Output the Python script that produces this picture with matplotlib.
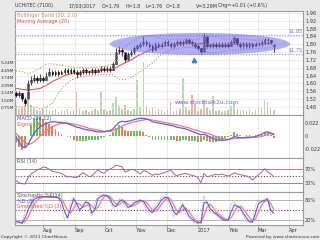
import matplotlib
matplotlib.use('Agg')
import matplotlib.pyplot as plt
import matplotlib.dates as mdates
from matplotlib.patches import Ellipse
import numpy as np
import pandas as pd

# ---------------- data ----------------
sessions = pd.date_range('2016-07-05', '2017-03-17', freq='3D')      # 86 sample sessions
line_days = pd.date_range('2016-07-05', periods=43, freq='6D')       # MA / Bollinger samples

price_open = [1.55, 1.54, 1.55, 1.52, 1.52, 1.60, 1.62, 1.63, 1.62, 1.63,
              1.62, 1.64, 1.66, 1.65, 1.66, 1.65, 1.66, 1.67, 1.66, 1.67,
              1.66, 1.65, 1.66, 1.67, 1.66, 1.66, 1.67, 1.66, 1.67, 1.68,
              1.67, 1.68, 1.67, 1.70, 1.76, 1.77, 1.76, 1.72, 1.75, 1.76,
              1.78, 1.79, 1.80, 1.81, 1.80, 1.79, 1.77, 1.80, 1.79, 1.80,
              1.81, 1.80, 1.79, 1.80, 1.81, 1.80, 1.81, 1.82, 1.81, 1.80,
              1.79, 1.78, 1.76, 1.84, 1.79, 1.79, 1.80, 1.79, 1.80, 1.79,
              1.80, 1.79, 1.81, 1.83, 1.80, 1.79, 1.80, 1.79, 1.80, 1.79,
              1.80, 1.80, 1.81, 1.82, 1.82, 1.79]
price_high = [1.56, 1.56, 1.55, 1.53, 1.62, 1.64, 1.65, 1.64, 1.65, 1.64,
              1.66, 1.68, 1.67, 1.67, 1.67, 1.67, 1.68, 1.68, 1.68, 1.68,
              1.67, 1.67, 1.68, 1.68, 1.67, 1.68, 1.68, 1.68, 1.69, 1.69,
              1.69, 1.69, 1.71, 1.78, 1.79, 1.78, 1.76, 1.76, 1.77, 1.79,
              1.80, 1.81, 1.84, 1.82, 1.81, 1.80, 1.81, 1.81, 1.81, 1.82,
              1.82, 1.81, 1.81, 1.82, 1.82, 1.82, 1.83, 1.83, 1.82, 1.81,
              1.80, 1.78, 1.86, 1.84, 1.80, 1.81, 1.81, 1.81, 1.81, 1.81,
              1.81, 1.82, 1.84, 1.83, 1.81, 1.81, 1.81, 1.81, 1.81, 1.81,
              1.81, 1.82, 1.83, 1.83, 1.82, 1.80]
price_low = [1.53, 1.53, 1.51, 1.49, 1.52, 1.59, 1.61, 1.60, 1.61, 1.61,
             1.62, 1.64, 1.64, 1.64, 1.64, 1.65, 1.65, 1.65, 1.65, 1.65,
             1.63, 1.64, 1.65, 1.65, 1.65, 1.65, 1.65, 1.66, 1.66, 1.66,
             1.66, 1.66, 1.67, 1.70, 1.75, 1.74, 1.71, 1.72, 1.74, 1.75,
             1.77, 1.78, 1.79, 1.79, 1.78, 1.76, 1.77, 1.78, 1.78, 1.79,
             1.79, 1.78, 1.78, 1.79, 1.79, 1.79, 1.80, 1.80, 1.79, 1.78,
             1.77, 1.75, 1.76, 1.78, 1.78, 1.78, 1.78, 1.78, 1.78, 1.78,
             1.78, 1.79, 1.80, 1.79, 1.78, 1.78, 1.78, 1.78, 1.78, 1.79,
             1.79, 1.79, 1.80, 1.80, 1.80, 1.76]
price_close = [1.54, 1.55, 1.52, 1.50, 1.60, 1.62, 1.63, 1.62, 1.63, 1.62,
               1.64, 1.66, 1.65, 1.66, 1.65, 1.66, 1.67, 1.66, 1.67, 1.66,
               1.65, 1.66, 1.67, 1.66, 1.66, 1.67, 1.66, 1.67, 1.68, 1.67,
               1.68, 1.67, 1.70, 1.76, 1.77, 1.76, 1.72, 1.75, 1.76, 1.78,
               1.79, 1.80, 1.81, 1.80, 1.79, 1.77, 1.80, 1.79, 1.80, 1.81,
               1.80, 1.79, 1.80, 1.81, 1.80, 1.81, 1.82, 1.81, 1.80, 1.79,
               1.78, 1.76, 1.84, 1.79, 1.79, 1.80, 1.79, 1.80, 1.79, 1.80,
               1.79, 1.81, 1.83, 1.80, 1.79, 1.80, 1.79, 1.80, 1.79, 1.80,
               1.80, 1.81, 1.82, 1.82, 1.81, 1.80]
volume_m = [0.9, 0.6, 0.8, 1.0, 1.6, 1.0, 0.7, 0.5, 0.4, 0.6,
            0.8, 0.5, 0.4, 0.6, 0.3, 0.5, 0.4, 0.6, 0.4, 0.5,
            2.3, 0.6, 0.4, 0.5, 0.3, 0.4, 0.6, 0.5, 2.4, 0.6,
            0.4, 0.5, 1.2, 1.8, 0.9, 0.6, 1.0, 0.5, 0.4, 0.6,
            3.5, 0.8, 5.3, 0.9, 0.5, 0.7, 0.4, 0.6, 0.5, 0.3,
            0.6, 1.3, 0.4, 0.5, 0.6, 3.7, 0.8, 0.5, 2.0, 1.1,
            0.4, 0.6, 1.5, 0.8, 0.5, 1.9, 0.4, 0.5, 0.3, 0.4,
            0.5, 0.9, 1.2, 0.6, 0.4, 0.5, 0.4, 0.6, 0.3, 0.5,
            0.7, 0.8, 1.5, 1.3, 0.7, 0.5]

ma20 = [1.575, 1.570, 1.567, 1.570, 1.575, 1.590, 1.610, 1.625, 1.640, 1.650,
        1.655, 1.658, 1.660, 1.662, 1.665, 1.668, 1.672, 1.690, 1.705, 1.720,
        1.740, 1.755, 1.770, 1.780, 1.790, 1.795, 1.800, 1.802, 1.805, 1.805,
        1.803, 1.803, 1.800, 1.798, 1.795, 1.797, 1.800, 1.800, 1.800, 1.800,
        1.800, 1.802, 1.805]
bb_upper = [1.665, 1.660, 1.650, 1.660, 1.680, 1.700, 1.700, 1.695, 1.690, 1.685,
            1.680, 1.680, 1.680, 1.682, 1.685, 1.690, 1.700, 1.760, 1.790, 1.810,
            1.830, 1.840, 1.845, 1.840, 1.830, 1.825, 1.825, 1.825, 1.825, 1.825,
            1.825, 1.845, 1.845, 1.840, 1.830, 1.825, 1.830, 1.828, 1.825, 1.822,
            1.820, 1.825, 1.828]
bb_lower = [1.485, 1.480, 1.484, 1.480, 1.470, 1.480, 1.500, 1.550, 1.590, 1.615,
            1.630, 1.636, 1.640, 1.642, 1.645, 1.645, 1.644, 1.620, 1.620, 1.630,
            1.650, 1.670, 1.695, 1.720, 1.750, 1.765, 1.775, 1.780, 1.785, 1.785,
            1.780, 1.762, 1.755, 1.757, 1.762, 1.770, 1.770, 1.772, 1.775, 1.778,
            1.780, 1.780, 1.782]

macd = [-0.002, -0.010, -0.018, -0.020, -0.014, -0.004, 0.005, 0.011, 0.016, 0.019,
        0.021, 0.023, 0.024, 0.024, 0.023, 0.023, 0.022, 0.021, 0.019, 0.017,
        0.015, 0.014, 0.012, 0.011, 0.010, 0.009, 0.008, 0.007, 0.007, 0.007,
        0.008, 0.009, 0.012, 0.018, 0.023, 0.025, 0.024, 0.025, 0.026, 0.028,
        0.029, 0.030, 0.030, 0.029, 0.027, 0.024, 0.023, 0.022, 0.021, 0.020,
        0.019, 0.018, 0.017, 0.015, 0.014, 0.013, 0.012, 0.010, 0.008, 0.006,
        0.004, 0.002, 0.003, 0.001, -0.002, -0.004, -0.006, -0.007, -0.007, -0.007,
        -0.006, -0.004, -0.001, -0.002, -0.003, -0.003, -0.002, -0.002, -0.002, -0.001,
        0.001, 0.003, 0.006, 0.007, 0.005, 0.002]
signal = [0.004, -0.001, -0.006, -0.011, -0.014, -0.013, -0.010, -0.005, 0.000, 0.005,
          0.009, 0.013, 0.016, 0.018, 0.020, 0.021, 0.022, 0.022, 0.021, 0.020,
          0.019, 0.018, 0.016, 0.015, 0.013, 0.012, 0.011, 0.010, 0.009, 0.008,
          0.008, 0.008, 0.009, 0.011, 0.014, 0.017, 0.019, 0.021, 0.022, 0.024,
          0.025, 0.026, 0.027, 0.028, 0.028, 0.027, 0.026, 0.025, 0.024, 0.023,
          0.022, 0.021, 0.020, 0.019, 0.018, 0.016, 0.015, 0.014, 0.012, 0.010,
          0.009, 0.007, 0.006, 0.005, 0.003, 0.001, -0.001, -0.003, -0.004, -0.005,
          -0.006, -0.005, -0.004, -0.004, -0.003, -0.003, -0.003, -0.003, -0.002, -0.002,
          -0.002, -0.001, 0.001, 0.003, 0.004, 0.004]
macd_hist = [-0.012, -0.018, -0.024, -0.018, 0.000, 0.018, 0.030, 0.032, 0.032, 0.028,
             0.024, 0.020, 0.016, 0.012, 0.006, 0.004, 0.000, -0.002, -0.004, -0.006,
             -0.008, -0.008, -0.008, -0.008, -0.006, -0.006, -0.006, -0.006, -0.004, -0.002,
             0.000, 0.002, 0.006, 0.014, 0.018, 0.016, 0.010, 0.008, 0.008, 0.008,
             0.008, 0.008, 0.006, 0.002, -0.002, -0.006, -0.006, -0.006, -0.006, -0.006,
             -0.006, -0.006, -0.006, -0.008, -0.008, -0.006, -0.006, -0.008, -0.008, -0.008,
             -0.010, -0.010, -0.006, -0.008, -0.010, -0.010, -0.010, -0.008, -0.006, -0.004,
             -0.002, 0.002, 0.006, 0.004, 0.002, 0.000, 0.002, 0.002, 0.000, 0.002,
             0.004, 0.004, 0.006, 0.006, 0.002, -0.004]

rsi = [36, 30, 27, 26, 45, 56, 62, 68, 72, 77,
       75, 70, 64, 62, 60, 58, 52, 47, 48, 46,
       45, 52, 60, 55, 48, 50, 60, 68, 62, 58,
       66, 70, 76, 82, 80, 78, 62, 66, 70, 68,
       62, 56, 66, 64, 58, 52, 56, 54, 58, 60,
       64, 68, 58, 50, 54, 56, 58, 54, 52, 50,
       44, 30, 58, 48, 50, 53, 55, 54, 56, 52,
       50, 54, 60, 56, 54, 52, 50, 46, 38, 46,
       54, 62, 72, 62, 56, 48]

stoch_k = [8, 10, 8, 45, 70, 85, 90, 90, 92, 94,
           90, 90, 92, 88, 85, 55, 20, 30, 80, 90,
           55, 45, 70, 80, 60, 30, 70, 95, 96, 98,
           92, 75, 55, 65, 85, 80, 60, 55, 70, 78,
           78, 85, 70, 50, 40, 45, 65, 75, 90, 92,
           85, 50, 30, 40, 60, 70, 35, 25, 15, 8,
           8, 15, 95, 65, 45, 40, 35, 25, 18, 15,
           20, 70, 75, 55, 50, 30, 15, 10, 15, 65,
           80, 75, 85, 88, 35, 40]
stoch_d = [14, 11, 9, 25, 50, 70, 84, 88, 90, 92,
           91, 90, 90, 90, 88, 75, 45, 25, 55, 85,
           70, 50, 60, 75, 72, 40, 50, 85, 92, 96,
           95, 85, 65, 60, 75, 82, 72, 58, 62, 72,
           76, 80, 78, 62, 48, 42, 55, 66, 82, 88,
           90, 70, 45, 35, 50, 66, 50, 32, 22, 14,
           10, 10, 72, 75, 55, 44, 38, 30, 22, 18,
           18, 45, 66, 62, 56, 40, 25, 14, 12, 40,
           70, 76, 80, 84, 50, 40]
stoch_sd = [18, 13, 10, 14, 28, 48, 68, 80, 87, 90,
            91, 91, 90, 90, 89, 84, 68, 48, 40, 55,
            72, 68, 58, 62, 70, 62, 52, 58, 76, 90,
            95, 92, 80, 68, 66, 74, 76, 68, 62, 64,
            70, 76, 78, 74, 62, 50, 46, 55, 68, 80,
            88, 84, 66, 48, 42, 52, 56, 46, 32, 20,
            13, 10, 32, 58, 68, 58, 44, 36, 28, 22,
            19, 26, 44, 60, 62, 54, 40, 26, 16, 22,
            44, 64, 76, 80, 70, 52]

vol_ticks = [0.75, 1.50, 2.24, 2.99, 3.74, 4.49, 5.24]
vol_labels = ['0.75M', '1.50M', '2.24M', '2.99M', '3.74M', '4.49M', '5.24M']
price_ticks = [1.48, 1.52, 1.56, 1.60, 1.64, 1.68, 1.72, 1.76, 1.80, 1.84, 1.88, 1.92, 1.96]
month_starts = pd.to_datetime(['2016-08-01', '2016-09-01', '2016-10-01', '2016-11-01', '2016-12-01',
                               '2017-01-01', '2017-02-01', '2017-03-01', '2017-04-01'])
month_labels = ['Aug', 'Sep', 'Oct', 'Nov', 'Dec', '2017', 'Feb', 'Mar', 'Apr']
levels = [1.85, 1.75]

# ---------------- figure ----------------
W, H = 320, 240
fig = plt.figure(figsize=(W / 100, H / 100), dpi=100)
fig.patch.set_facecolor('#e9e9e9')
X0, X1 = pd.Timestamp('2016-07-04'), pd.Timestamp('2017-04-15')
FS = 3.6


def rect(top, bottom, left=15, right=303):
    return [left / W, 1 - bottom / H, (right - left) / W, (bottom - top) / H]


def ftext(x, y, s, **kw):
    kw.setdefault('fontsize', FS)
    kw.setdefault('va', 'center')
    kw.setdefault('color', '#333333')
    fig.text(x / W, 1 - y / H, s, **kw)


def setup(ax):
    ax.set_facecolor('white')
    ax.set_xlim(X0, X1)
    for s in ax.spines.values():
        s.set_color('#9a9a9a')
        s.set_linewidth(0.8)
    ax.yaxis.tick_right()
    ax.tick_params(axis='y', length=0, labelsize=FS, pad=1.5, labelcolor='#333333')
    ax.set_xticks(month_starts)
    ax.tick_params(axis='x', length=0, labelbottom=False)
    ax.grid(True, axis='x', color='#e0e0e0', lw=0.5)
    ax.set_axisbelow(True)


up = [c >= o for o, c in zip(price_open, price_close)]

# --- price panel with volume underneath ---
ax_vol = fig.add_axes(rect(11, 115))
setup(ax_vol)
ax_vol.yaxis.tick_left()
ax_vol.set_ylim(0, 10.43)
ax_vol.set_yticks(vol_ticks)
ax_vol.set_yticklabels(vol_labels)
ax_vol.tick_params(axis='y', labelsize=3.2, pad=0.4)
ax_vol.bar(sessions, volume_m, width=1.6,
           color=['#b5d9ae' if u else '#e8b4a8' for u in up], lw=0)

ax = fig.add_axes(rect(11, 115), sharex=ax_vol)
ax.patch.set_visible(False)
for s in ax.spines.values():
    s.set_visible(False)
ax.yaxis.tick_right()
ax.tick_params(axis='y', length=0, labelsize=FS, pad=2, labelcolor='#333333')
ax.tick_params(axis='x', length=0, labelbottom=False)
ax.set_ylim(1.439, 1.970)
ax.set_yticks(price_ticks)
ax.set_yticklabels(['%.2f' % t for t in price_ticks])
ax.grid(True, axis='y', color='#e6e6e6', lw=0.5)
ax.set_xlim(X0, X1)

for lv in levels:
    ax.axhline(lv, color='#8c8ce6', lw=0.8, ls=(0, (1, 1.5)))
    ax.text(pd.Timestamp('2017-04-01'), lv + 0.004, '$%.2f' % lv, fontsize=FS,
            color='#6f6fe0', va='bottom', ha='left')

ax.plot(line_days, bb_upper, color='#d49050', lw=0.8, ls=(0, (1, 1.6)))
ax.plot(line_days, bb_lower, color='#d49050', lw=0.8, ls=(0, (1, 1.6)))
ax.plot(line_days, ma20, color='#f05050', lw=0.8)

ax.vlines(sessions, price_low, price_high, color='black', lw=0.5)
body = [max(abs(c - o), 0.004) for o, c in zip(price_open, price_close)]
bottom = [min(o, c) for o, c in zip(price_open, price_close)]
ax.bar(sessions, body, bottom=bottom, width=1.7,
       color=['white' if u else 'black' for u in up], edgecolor='black', lw=0.4)

ell = Ellipse((mdates.date2num(pd.Timestamp('2017-01-03')), 1.802), width=178, height=0.112,
              facecolor='#6e6ef0', edgecolor='none', alpha=0.55, zorder=5)
ax.add_patch(ell)
ax.plot([pd.Timestamp('2016-12-28')], [1.72], marker='^', ms=3.2, color='#3f86c8', zorder=6)
ax.text(pd.Timestamp('2016-12-09'), 1.505, 'www.stocktalk2u.com', fontsize=4.2,
        color='#7065d8', va='center')

ftext(17, 15.5, 'Bollinger Band (20, 2.0)', color='#c8904c')
ftext(17, 21.5, 'Moving Average (20)', color='#f04040')

# --- MACD ---
ax_m = fig.add_axes(rect(115, 158))
setup(ax_m)
ax_m.set_ylim(-0.0372, 0.0355)
ax_m.set_yticks([0.022, 0, -0.022])
ax_m.set_yticklabels(['0.022', '0', '-0.022'])
hist_col = ['#6cc060' if i == 0 or macd_hist[i] >= macd_hist[i - 1] else '#f07a5a'
            for i in range(len(macd_hist))]
ax_m.bar(sessions, macd_hist, width=1.8, color=hist_col, lw=0)
ax_m.plot(sessions, signal, color='#ff7070', lw=0.9)
ax_m.plot(sessions, macd, color='#5a5af5', lw=0.9)
ftext(17, 118.5, 'MACD (26,12)', color='#4a4af0')
ftext(17, 124, 'Signal (9)', color='#f04848')

# --- RSI ---
ax_r = fig.add_axes(rect(158, 192))
setup(ax_r)
ax_r.set_ylim(2, 104)
ax_r.set_yticks([70, 30])
ax_r.set_yticklabels(['70%', '30%'])
ax_r.axhline(70, color='#b07898', lw=0.7)
ax_r.axhline(30, color='#b07898', lw=0.7)
ax_r.axhline(50, color='#903070', lw=0.8, ls=(0, (1, 1.6)))
ax_r.plot(sessions, rsi, color='#a06a8c', lw=0.7)
ftext(17, 161.5, 'RSI (14)', color='#555555')

# --- Stochastic ---
ax_s = fig.add_axes(rect(192, 225))
setup(ax_s)
ax_s.set_ylim(3, 106)
ax_s.set_yticks([80, 20])
ax_s.set_yticklabels(['80%', '20%'])
ax_s.axhline(80, color='#a8a8a8', lw=0.6)
ax_s.axhline(20, color='#a8a8a8', lw=0.6)
ax_s.axhline(50, color='#903070', lw=0.8, ls=(0, (1, 1.6)))
ax_s.plot(sessions, stoch_k, color='#888888', lw=0.5, ls=(0, (1, 1.2)))
ax_s.plot(sessions, stoch_sd, color='#ff8a8a', lw=1.1)
ax_s.plot(sessions, stoch_d, color='#5a5af5', lw=0.8)
ax_s.set_xticks(month_starts)
ax_s.set_xticklabels(month_labels, ha='left')
ax_s.tick_params(axis='x', length=2, width=0.5, color='#888888', labelbottom=True,
                 labelsize=FS, pad=0.2, labelcolor='#333333')
ftext(17, 195.5, 'Stochastic %K(14)', color='#555555')
ftext(17, 201, '%D (3)', color='#3a3af0')
ftext(17, 206.5, 'Smoothed %D (3)', color='#f04848')

# --- header / footer ---
ftext(15, 6, 'UCHITEC (7100)', fontsize=3.4)
ftext(68, 6, '17/03/2017', fontsize=3.4)
ftext(102, 6, 'O=1.79', fontsize=3.4)
ftext(125, 6, 'H=1.8', fontsize=3.4)
ftext(146, 6, 'L=1.76', fontsize=3.4)
ftext(166, 6, 'C=1.8', fontsize=3.4)
ftext(196, 6, 'V=3.29M', fontsize=3.4)
ftext(218, 6, 'Chg=+0.01 (+0.6%)', fontsize=3.4)
ftext(1, 237, 'Copyright \u00a9 2011 ChartNexus', fontsize=3.2)
ftext(319, 237, 'Powered by www.chartnexus.com', fontsize=3.2, ha='right')

fig.savefig('out.png', dpi=100, facecolor=fig.get_facecolor())
